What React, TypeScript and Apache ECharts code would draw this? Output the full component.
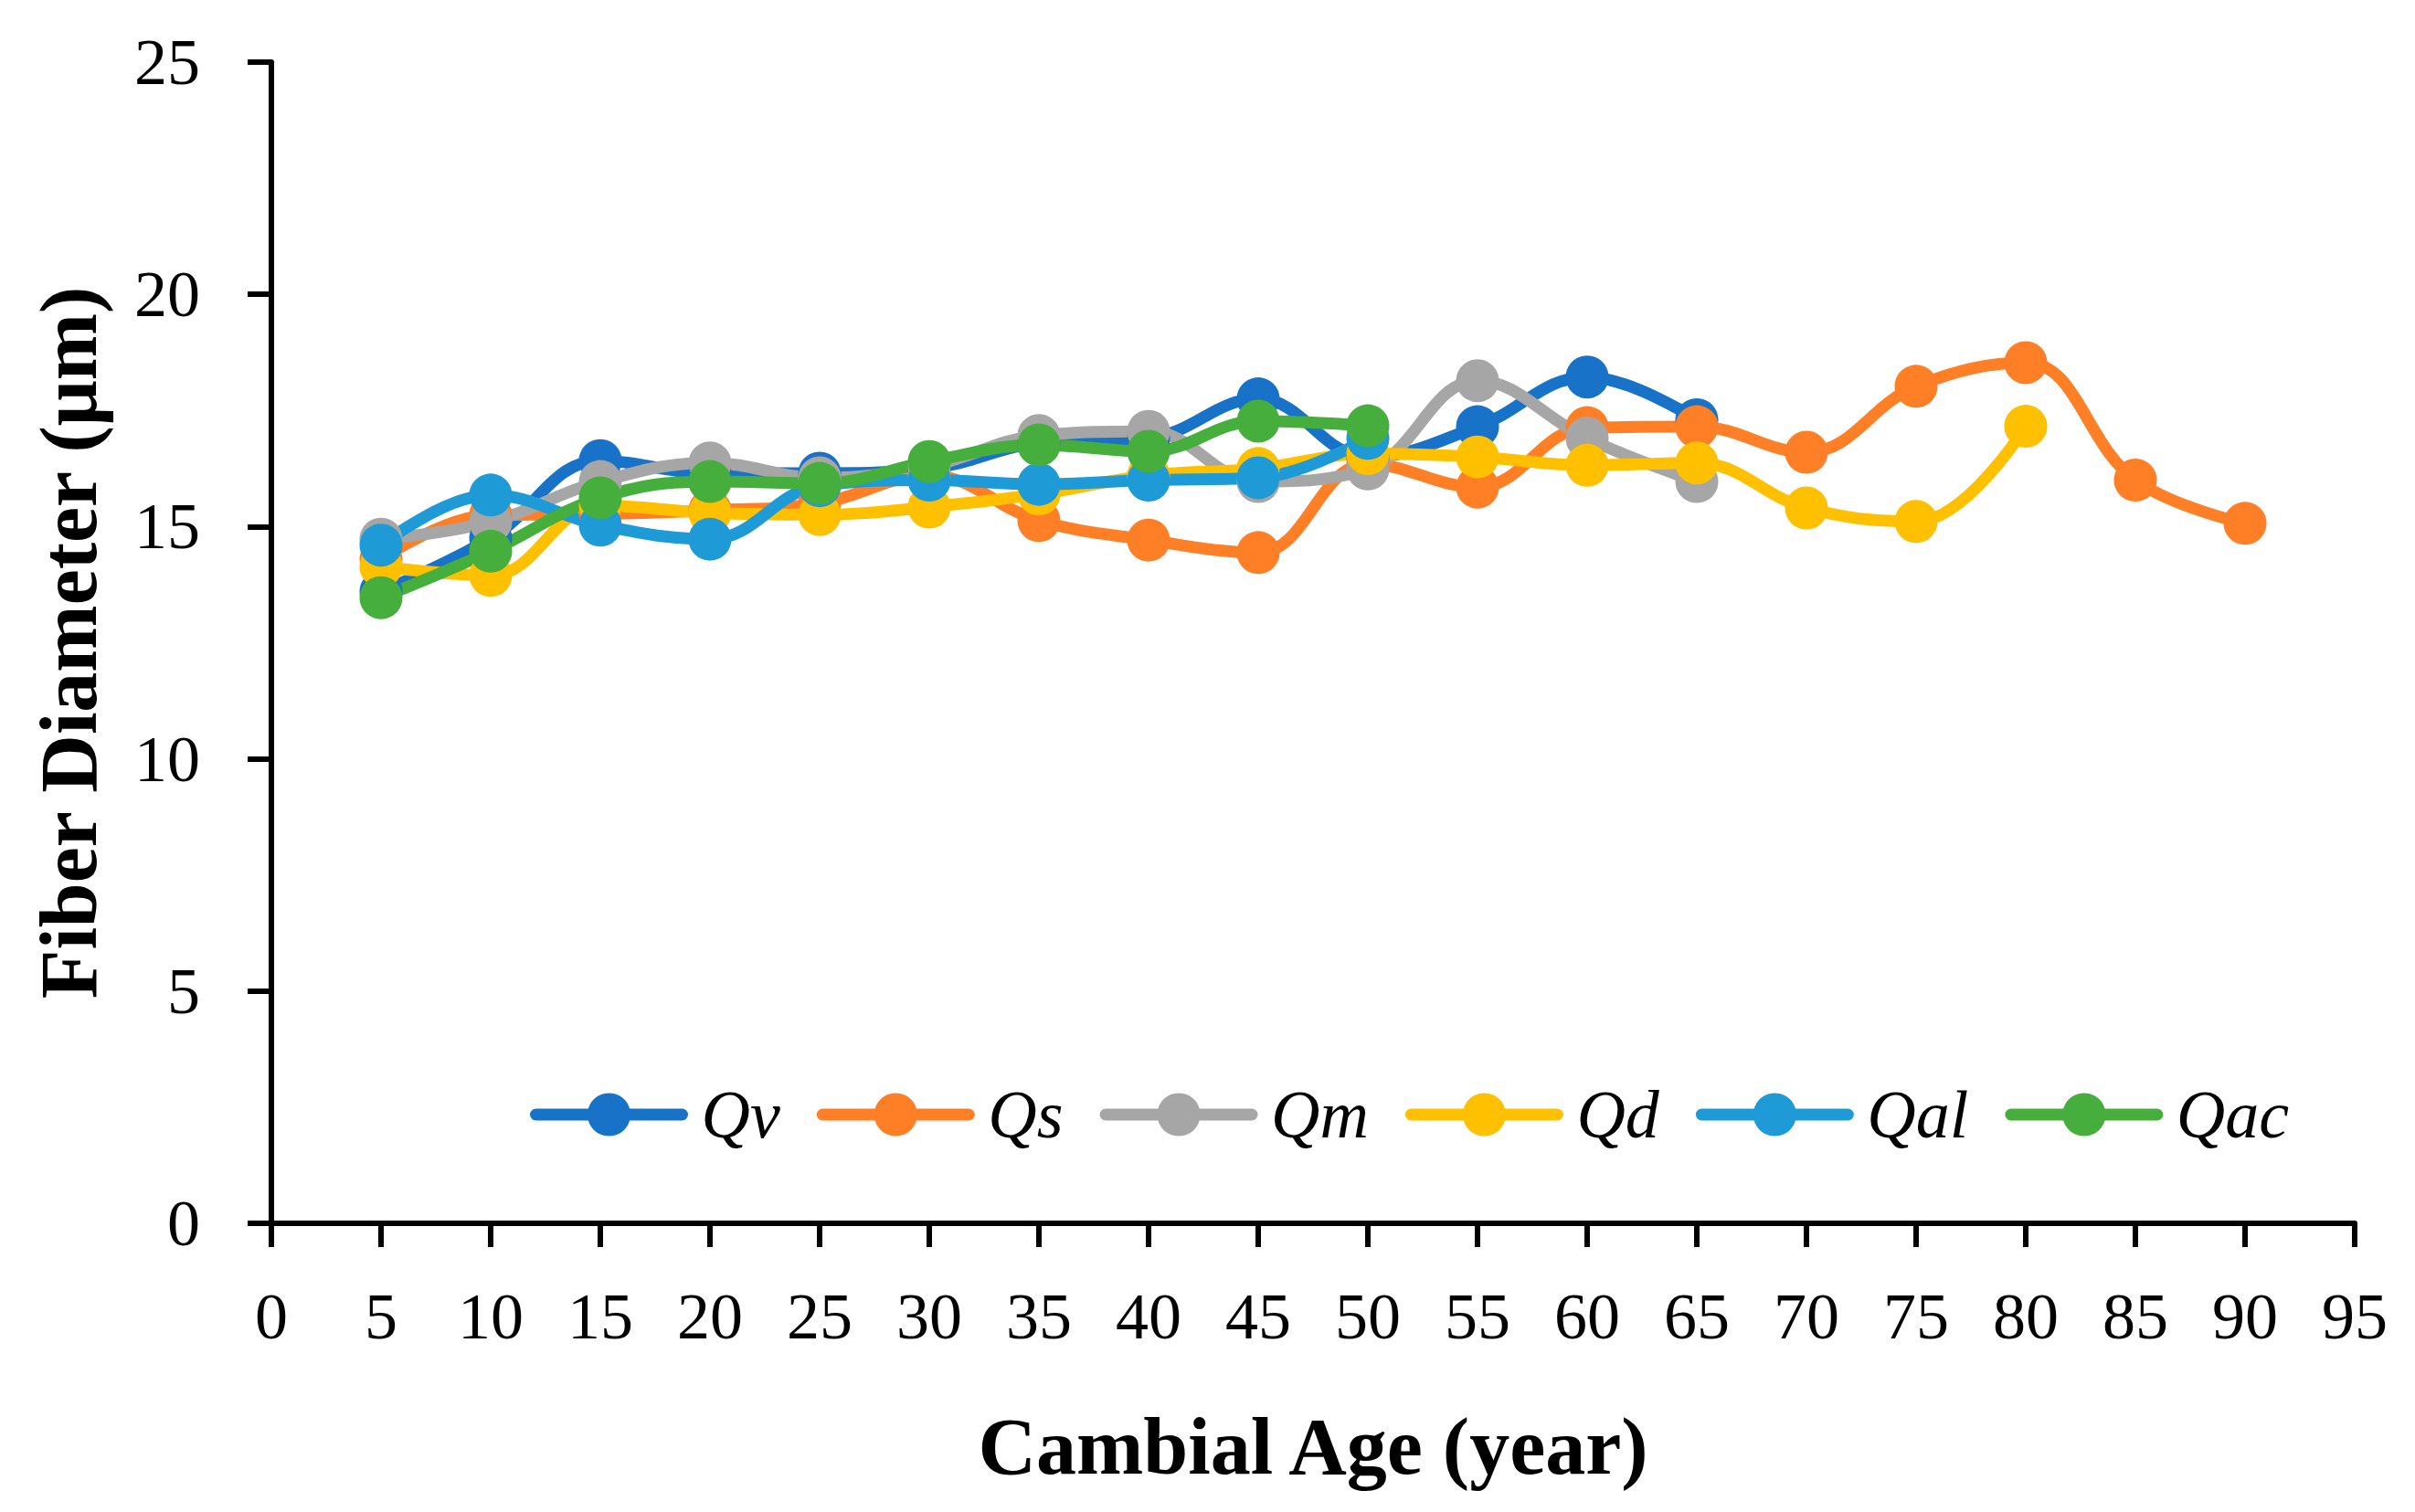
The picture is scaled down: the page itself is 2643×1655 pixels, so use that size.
import React, { useEffect, useRef } from "react";
import * as echarts from "echarts";

const seriesNames = ["Qv", "Qs", "Qm", "Qd", "Qal", "Qac"];
const ages = [5, 10, 15, 20, 25, 30, 35, 40, 45, 50, 55, 60, 65, 70, 75, 80, 85, 90];

const qv = [13.6, 14.75, 16.42, 16.15, 16.15, 16.25, 16.8, 16.9, 17.75, 16.5, 17.15, 18.22, 17.3];
const qs = [14.3, 15.25, 15.27, 15.35, 15.5, 16.1, 15.13, 14.71, 14.44, 16.35, 15.85, 17.13, 17.15, 16.6, 18.02, 18.53, 16.0, 15.07];
const qm = [14.73, 15.1, 15.97, 16.37, 16.05, 16.3, 16.96, 17.05, 15.97, 16.24, 18.14, 16.9, 15.97];
const qd = [14.14, 13.95, 15.45, 15.3, 15.26, 15.42, 15.7, 16.1, 16.25, 16.57, 16.5, 16.32, 16.37, 15.4, 15.11, 17.16];
const qal = [14.6, 15.68, 15.03, 14.73, 15.88, 16.0, 15.91, 16.0, 16.05, 16.9];
const qac = [13.47, 14.47, 15.62, 15.97, 15.93, 16.4, 16.76, 16.62, 17.27, 17.17];

const allValues = [qv, qs, qm, qd, qal, qac];
const colors = ["#1873C8", "#FF7F27", "#A6A6A6", "#FFC000", "#1E9BD7", "#46AE3C"];

const xTitle = "Cambial Age (year)";
const yTitle = "Fiber Diameter (μm)";

const FONT = "'Liberation Serif', 'DejaVu Serif', serif";

export default function App() {
  const ref = useRef<HTMLDivElement>(null);
  useEffect(() => {
    if (!ref.current) return;
    const chart = echarts.init(ref.current, undefined, { renderer: "svg" });
    const series = seriesNames.map((name, i) => ({
      name,
      type: "line",
      smooth: 0.4,
      symbol: "circle",
      symbolSize: 47,
      showSymbol: true,
      lineStyle: { width: 13, color: colors[i], cap: "round" },
      itemStyle: { color: colors[i] },
      data: allValues[i].map((v, j) => [ages[j], v]),
    }));
    chart.setOption({
      animation: false,
      backgroundColor: "#ffffff",
      color: colors,
      grid: { left: 297, right: 66, top: 68, bottom: 316, containLabel: false },
      legend: {
        show: true,
        left: 575,
        top: 1178,
        orient: "horizontal",
        itemWidth: 160,
        itemHeight: 59,
        itemGap: 40,
        lineStyle: { width: 13, cap: "round" },
        textStyle: {
          fontFamily: FONT,
          fontStyle: "italic",
          fontSize: 74,
          color: "#000",
          padding: [0, 0, 0, 16],
        },
        data: seriesNames,
      },
      xAxis: {
        type: "value",
        min: 0,
        max: 95,
        interval: 5,
        name: xTitle,
        nameLocation: "middle",
        nameGap: 200,
        nameTextStyle: { fontFamily: FONT, fontWeight: "bold", fontSize: 88, color: "#000" },
        axisLine: { show: true, onZero: false, lineStyle: { color: "#000", width: 6 } },
        axisTick: { show: true, length: 26, lineStyle: { color: "#000", width: 6 } },
        axisLabel: { fontFamily: FONT, fontSize: 72, color: "#000", margin: 66 },
        splitLine: { show: false },
      },
      yAxis: {
        type: "value",
        min: 0,
        max: 25,
        interval: 5,
        name: yTitle,
        nameLocation: "middle",
        nameGap: 178,
        nameRotate: 90,
        nameTextStyle: { fontFamily: FONT, fontWeight: "bold", fontSize: 88, color: "#000" },
        axisLine: { show: true, lineStyle: { color: "#000", width: 6 } },
        axisTick: { show: true, length: 26, lineStyle: { color: "#000", width: 6 } },
        axisLabel: { fontFamily: FONT, fontSize: 72, color: "#000", margin: 78 },
        splitLine: { show: false },
      },
      series,
    });
    return () => chart.dispose();
  }, []);
  return (
    <div
      ref={ref}
      style={{ position: "absolute", left: 0, top: 0, width: 2643, height: 1655, background: "#fff" }}
    />
  );
}
